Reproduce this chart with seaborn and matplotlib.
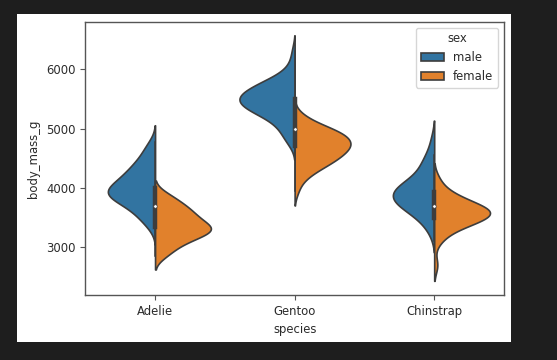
import numpy as np
import pandas as pd
import matplotlib
matplotlib.use("Agg")
import matplotlib.pyplot as plt
import seaborn as sns
from matplotlib.patches import Rectangle

species = ["Adelie", "Gentoo", "Chinstrap"]
sexes = ["male", "female"]

# body mass (g) and number of birds at that mass, per species / sex
adelie_male_mass = [3325, 3400, 3500, 3600, 3700, 3800, 3900, 4000, 4100, 4200, 4300, 4400, 4500, 4600, 4700, 4775]
adelie_male_n = [1, 2, 3, 4, 5, 8, 11, 9, 7, 6, 5, 4, 3, 2, 2, 1]
adelie_female_mass = [2850, 2900, 3000, 3100, 3200, 3300, 3400, 3500, 3600, 3700, 3800, 3900]
adelie_female_n = [2, 2, 4, 6, 9, 13, 9, 8, 7, 6, 4, 3]

gentoo_male_mass = [4750, 4800, 4900, 5000, 5100, 5200, 5300, 5400, 5500, 5600, 5700, 5800, 5900, 6000, 6100, 6300]
gentoo_male_n = [1, 1, 2, 2, 3, 4, 7, 8, 9, 8, 6, 5, 2, 1, 1, 1]
gentoo_female_mass = [3950, 4100, 4200, 4300, 4400, 4500, 4600, 4700, 4800, 4900, 5000, 5100, 5200]
gentoo_female_n = [1, 1, 2, 3, 5, 6, 7, 8, 8, 7, 6, 2, 2]

chinstrap_male_mass = [3250, 3400, 3500, 3600, 3700, 3800, 3900, 4000, 4100, 4200, 4300, 4400, 4500, 4550, 4800]
chinstrap_male_n = [1, 1, 2, 2, 4, 5, 4, 5, 3, 1, 2, 1, 1, 1, 1]
chinstrap_female_mass = [2700, 3100, 3200, 3300, 3400, 3500, 3600, 3700, 3800, 3900, 4000, 4150]
chinstrap_female_n = [1, 1, 1, 2, 4, 6, 7, 5, 3, 2, 1, 1]

groups = [
    ("Adelie", "male", adelie_male_mass, adelie_male_n),
    ("Adelie", "female", adelie_female_mass, adelie_female_n),
    ("Gentoo", "male", gentoo_male_mass, gentoo_male_n),
    ("Gentoo", "female", gentoo_female_mass, gentoo_female_n),
    ("Chinstrap", "male", chinstrap_male_mass, chinstrap_male_n),
    ("Chinstrap", "female", chinstrap_female_mass, chinstrap_female_n),
]

frames = []
for sp, sx, mass, n in groups:
    frames.append(pd.DataFrame({
        "species": sp,
        "sex": sx,
        "body_mass_g": np.repeat(mass, n).astype(float),
    }))
df = pd.concat(frames, ignore_index=True)

text_col = "#2b2b2b"
plt.rcParams["font.size"] = 8.4
plt.rcParams["font.family"] = ["DejaVu Sans"]
plt.rcParams["text.color"] = text_col
plt.rcParams["axes.labelcolor"] = text_col
plt.rcParams["xtick.color"] = "#555555"
plt.rcParams["ytick.color"] = "#555555"
plt.rcParams["xtick.labelcolor"] = text_col
plt.rcParams["ytick.labelcolor"] = text_col
plt.rcParams["axes.edgecolor"] = "#555555"
plt.rcParams["axes.linewidth"] = 1.0
gray = "#3d3d3d"

fig = plt.figure(figsize=(5.57, 3.6), dpi=100, facecolor="#1e1e1e")
fig.patches.append(Rectangle((0.0305, 0.0508), 0.8878, 0.9102,
                             transform=fig.transFigure, facecolor="white",
                             edgecolor="none", zorder=-10))
ax = fig.add_axes([0.1531, 0.1806, 0.7517, 0.7592])

# one call per species so the two halves share a width scale within each species
for k, sp in enumerate(species):
    sns.violinplot(
        data=df[df["species"] == sp],
        x="species",
        y="body_mass_g",
        hue="sex",
        order=species,
        hue_order=sexes,
        split=True,
        inner=None,
        common_norm=True,
        linewidth=1.2,
        linecolor=gray,
        legend=(k == 0),
        ax=ax,
    )

# old-style inner box, one per species over both sexes
for i, sp in enumerate(species):
    vals = df.loc[df["species"] == sp, "body_mass_g"].to_numpy()
    q1, med, q3 = np.percentile(vals, [25, 50, 75])
    lim = 1.5 * (q3 - q1)
    lo = vals[vals >= q1 - lim].min()
    hi = vals[vals <= q3 + lim].max()
    ax.plot([i, i], [lo, hi], color=gray, lw=1.1, zorder=3)
    ax.plot([i, i], [q1, q3], color=gray, lw=3.2, zorder=3)
    ax.scatter(i, med, s=6, color="white", edgecolor=gray, linewidth=0.4, zorder=4)

ax.set_xlim(-0.5, 2.5)
ax.set_ylim(2196, 6802)
ax.set_yticks([3000, 4000, 5000, 6000])
ax.set_xlabel("species")
ax.set_ylabel("body_mass_g")
sns.move_legend(ax, "upper right", title="sex")

fig.savefig("out.png", dpi=100, facecolor=fig.get_facecolor())
